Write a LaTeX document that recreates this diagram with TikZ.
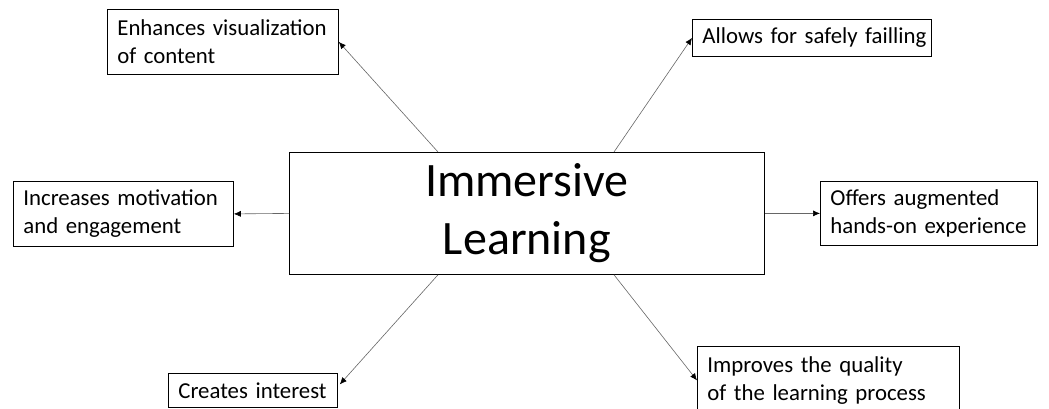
\documentclass[tikz,border=0pt]{standalone}
\usepackage{fontspec}
\setmainfont{Carlito}
\usetikzlibrary{arrows.meta,calc}
\newcommand{\tline}[1]{\mbox{#1}}
\begin{document}
\begin{tikzpicture}[x=1pt,y=-1pt,
  box/.style={draw=black,line width=0.8pt,anchor=north west,align=left,
    inner xsep=10pt,inner ysep=0pt,font=\fontsize{22.8}{28}\selectfont},
  conn/.style={draw=gray!80!black,line width=0.6pt,
    -{Latex[length=7pt,width=6pt,black]}}]
\useasboundingbox (0,0) rectangle (1049,409);
\node[box,minimum width=475pt,minimum height=122pt,align=center,
  font=\fontsize{48}{58}\selectfont] (c) at (289,152) {Immersive\\Learning};
\node[box,text width=211pt,minimum height=65pt] (tl) at (107,9) {\tline{Enhances visualization}\\\tline{of content}};
\node[box,text width=219pt,minimum height=37pt] (tr) at (692,19) {\tline{Allows for safely failling}};
\node[box,text width=200pt,minimum height=65pt] (l) at (13,181) {\tline{Increases motivation}\\\tline{and engagement}};
\node[box,text width=197pt,minimum height=64pt] (r) at (820,181) {\tline{Offers augmented}\\\tline{hands-on experience}};
\node[box,text width=149pt,minimum height=34pt] (bl) at (168,373) {\tline{Creates interest}};
\node[box,text width=242pt,minimum height=68pt] (br) at (697,346) {\tline{Improves the quality}\\\tline{of the learning process}};
\coordinate (s1) at ($(c.north west)+(149,0)$);
\coordinate (s2) at ($(c.north west)+(325,0)$);
\coordinate (s3) at ($(c.south west)+(149,0)$);
\coordinate (s4) at ($(c.south west)+(325,0)$);
\draw[conn] (s1) -- (tl.east);
\draw[conn] (s2) -- (tr.west);
\draw[conn] (c.west) -- (l.east);
\draw[conn] (c.east) -- (r.west);
\draw[conn] (s3) -- ($(bl.east)+(2,-6)$);
\draw[conn] (s4) -- (br.west);
\end{tikzpicture}
\end{document}
